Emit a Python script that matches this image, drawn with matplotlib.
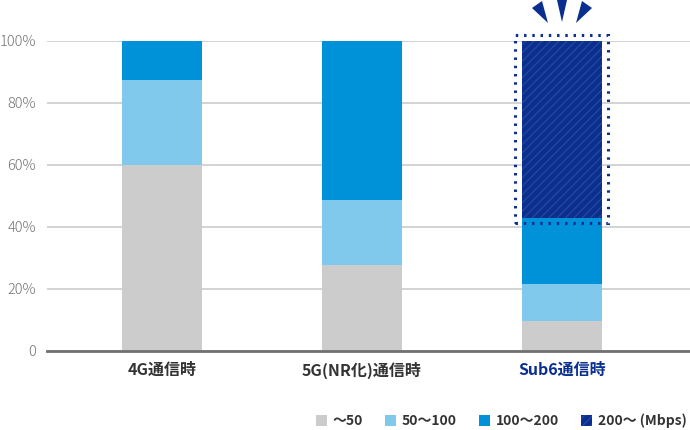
import matplotlib
matplotlib.use("Agg")
import matplotlib.pyplot as plt
from matplotlib.patches import Polygon, Rectangle
import numpy as np

plt.rcParams['font.family'] = ['Noto Sans CJK JP', 'DejaVu Sans']
plt.rcParams['hatch.linewidth'] = 1.0

# data (% share by speed band)
categories = ["4G通信時", "5G(NR化)通信時", "Sub6通信時"]
bands = ["～50", "50～100", "100～200", "200～ (Mbps)"]
under50 = [60.0, 27.7, 9.7]
b50_100 = [27.5, 21.0, 11.9]
b100_200 = [12.5, 51.3, 21.3]
over200 = [0.0, 0.0, 57.1]
series = [under50, b50_100, b100_200, over200]
colors = ["#cccccc", "#80c8ec", "#0092d8", "#0a2f8f"]
yticks = [0, 20, 40, 60, 80, 100]
yticklabels = ["0", "20%", "40%", "60%", "80%", "100%"]

W, H = 690, 430
fig = plt.figure(figsize=(W / 100, H / 100), dpi=100)
ax = fig.add_axes([47 / W, (H - 351) / H, 643 / W, 310 / H])

x = np.arange(len(categories))
bottom = np.zeros(len(categories))
for vals, col, lab in zip(series, colors, bands):
    vals = np.array(vals)
    if lab.startswith("200"):
        ax.bar(x, vals, 0.4, bottom=bottom, color=col, edgecolor="#23469e",
               linewidth=0, hatch="////", label=lab)
    else:
        ax.bar(x, vals, 0.4, bottom=bottom, color=col, linewidth=0, label=lab)
    bottom += vals

ax.set_xlim(-0.575, 2.64)
ax.set_ylim(0, 100)
ax.set_yticks(yticks)
ax.set_yticklabels(yticklabels)
ax.yaxis.grid(True, color="#cccccc", linewidth=1.2)
ax.set_axisbelow(True)
for s in ["top", "right", "left"]:
    ax.spines[s].set_visible(False)
ax.spines["bottom"].set_color("#707070")
ax.spines["bottom"].set_linewidth(2)
ax.tick_params(axis="y", length=0, pad=8, labelsize=10.5, labelcolor="#737373")
ax.tick_params(axis="x", length=0, pad=8, labelsize=11.5)
ax.set_xticks(x)
ax.set_xticklabels(categories, fontweight="bold", color="#333333")
ax.get_xticklabels()[2].set_color("#0a2f8f")
for t in ax.get_yticklabels():
    t.set_fontweight("light")

# dotted highlight box and burst marks (figure pixel coords)
def fp(pts):
    return [(a / W, 1 - b / H) for a, b in pts]

fig.patches.append(Rectangle((515 / W, 1 - 223 / H), 93 / W, 188 / H,
                             transform=fig.transFigure, fill=False,
                             edgecolor="#0a2f8f", linewidth=2.2,
                             linestyle=(0, (0.8, 1.9))))
for tri in [[(532, 8), (542, 1), (548, 23)],
            [(557, 0), (567, 0), (562, 22)],
            [(582, 1), (592, 8), (576, 23)]]:
    fig.patches.append(Polygon(fp(tri), closed=True, transform=fig.transFigure,
                               facecolor="#0a2f8f", edgecolor="none"))

leg = fig.legend(loc="center right", bbox_to_anchor=(699 / W, 1 - 421 / H),
                 ncol=4, frameon=False, handlelength=0.8, handleheight=0.8,
                 handletextpad=0.4, columnspacing=1.6,
                 prop={"size": 10, "weight": "bold"})
for t in leg.get_texts():
    t.set_color("#333333")

fig.savefig("out.png", dpi=100)
